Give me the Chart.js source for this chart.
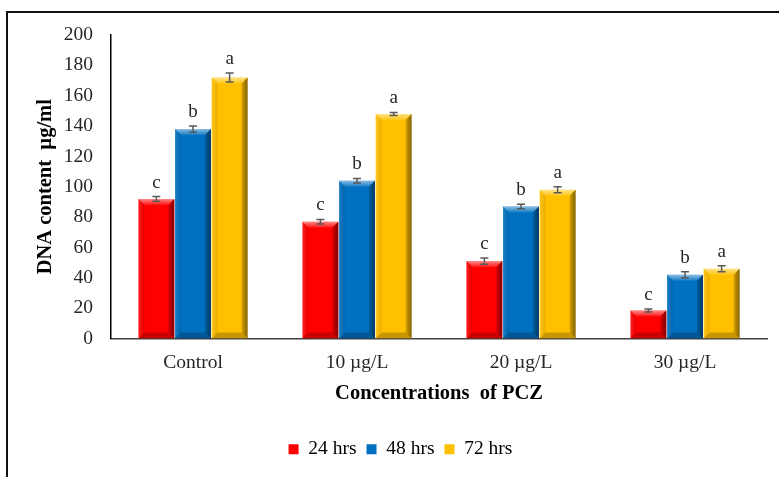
<!DOCTYPE html>
<html>
<head>
<meta charset="utf-8">
<script src="https://cdn.jsdelivr.net/npm/chart.js@4.4.0/dist/chart.umd.min.js"></script>
<style>
  html, body { margin: 0; padding: 0; background: #fff; overflow: hidden; }
  #wrap { position: relative; width: 779px; height: 477px; }
  #frame { position: absolute; left: 6px; top: 11px; width: 900px; height: 600px;
           border-top: 2px solid #111; border-left: 2px solid #111; pointer-events: none; }
  canvas { position: absolute; left: 0; top: 0; }
</style>
</head>
<body>
<div id="wrap">
  <canvas id="c" width="779" height="477"></canvas>
  <div id="frame"></div>
</div>
<script>
const categories = ['Control', '10 µg/L', '20 µg/L', '30 µg/L'];
const seriesNames = ['24 hrs', '48 hrs', '72 hrs'];
const values24 = [92, 77, 51, 18.5];
const values48 = [138, 104, 87, 42];
const values72 = [172, 148, 98, 46];
const err24 = [1.5, 1.5, 2, 1];
const err48 = [2, 1.5, 1.5, 2];
const err72 = [3, 1, 2, 2];
const letters24 = ['c', 'c', 'c', 'c'];
const letters48 = ['b', 'b', 'b', 'b'];
const letters72 = ['a', 'a', 'a', 'a'];
const yTicks = [0, 20, 40, 60, 80, 100, 120, 140, 160, 180, 200];

const colors = ['#FF0000', '#0070C0', '#FFC000'];
const errs = [err24, err48, err72];
const letters = [letters24, letters48, letters72];

const FONT = "'Liberation Serif', 'Times New Roman', serif";

const bevelPlugin = {
  id: 'bevel',
  afterLayout(chart) {
    if (chart.legend) { chart.legend.left += 17; chart.legend.right += 17; }
  },
  afterDatasetsDraw(chart) {
    const ctx = chart.ctx;
    chart.data.datasets.forEach((ds, di) => {
      const meta = chart.getDatasetMeta(di);
      meta.data.forEach((bar, i) => {
        const p = bar.getProps(['x', 'y', 'base', 'width'], true);
        const l = p.x - p.width / 2, r = p.x + p.width / 2, t = p.y, b = p.base;
        const h = b - t;
        const bv = Math.min(6, h / 2, p.width / 4);
        ctx.save();
        let g = ctx.createLinearGradient(0, t, 0, t + bv);
        g.addColorStop(0, 'rgba(255,255,255,0.55)');
        g.addColorStop(1, 'rgba(255,255,255,0.08)');
        ctx.fillStyle = g;
        ctx.beginPath(); ctx.moveTo(l, t); ctx.lineTo(r, t); ctx.lineTo(r - bv, t + bv); ctx.lineTo(l + bv, t + bv); ctx.closePath(); ctx.fill();
        g = ctx.createLinearGradient(r - bv, 0, r, 0);
        g.addColorStop(0, 'rgba(0,0,0,0.15)');
        g.addColorStop(1, 'rgba(0,0,0,0.5)');
        ctx.fillStyle = g;
        ctx.beginPath(); ctx.moveTo(r, t); ctx.lineTo(r, b); ctx.lineTo(r - bv, b - bv); ctx.lineTo(r - bv, t + bv); ctx.closePath(); ctx.fill();
        g = ctx.createLinearGradient(l, 0, l + bv, 0);
        g.addColorStop(0, 'rgba(255,255,255,0.12)');
        g.addColorStop(1, 'rgba(0,0,0,0.08)');
        ctx.fillStyle = g;
        ctx.beginPath(); ctx.moveTo(l, t); ctx.lineTo(l + bv, t + bv); ctx.lineTo(l + bv, b - bv); ctx.lineTo(l, b); ctx.closePath(); ctx.fill();
        ctx.fillStyle = 'rgba(0,0,0,0.22)';
        ctx.beginPath(); ctx.moveTo(l, b); ctx.lineTo(l + bv, b - bv); ctx.lineTo(r - bv, b - bv); ctx.lineTo(r, b); ctx.closePath(); ctx.fill();
        ctx.restore();
      });
    });
  }
};

const errorPlugin = {
  id: 'errs',
  afterDatasetsDraw(chart) {
    const ctx = chart.ctx;
    const ys = chart.scales.y;
    chart.data.datasets.forEach((ds, di) => {
      const meta = chart.getDatasetMeta(di);
      meta.data.forEach((bar, i) => {
        const v = ds.data[i], e = errs[di][i];
        const x = bar.x;
        const yTop = ys.getPixelForValue(v + e);
        const yBot = ys.getPixelForValue(v - e);
        ctx.save();
        ctx.strokeStyle = '#595959';
        ctx.lineWidth = 1.5;
        ctx.beginPath();
        ctx.moveTo(x, yTop); ctx.lineTo(x, yBot);
        ctx.moveTo(x - 4, yTop); ctx.lineTo(x + 4, yTop);
        ctx.moveTo(x - 4, yBot); ctx.lineTo(x + 4, yBot);
        ctx.stroke();
        ctx.fillStyle = '#262626';
        ctx.font = '19px ' + FONT;
        ctx.textAlign = 'center';
        ctx.textBaseline = 'alphabetic';
        ctx.fillText(letters[di][i], x, yTop - 9);
        ctx.restore();
      });
    });
  }
};

new Chart(document.getElementById('c'), {
  type: 'bar',
  data: {
    labels: categories,
    datasets: [
      { label: seriesNames[0], data: values24, backgroundColor: colors[0] },
      { label: seriesNames[1], data: values48, backgroundColor: colors[1] },
      { label: seriesNames[2], data: values72, backgroundColor: colors[2] }
    ]
  },
  options: {
    responsive: false,
    animation: false,
    devicePixelRatio: 1,
    layout: { padding: { left: 0, right: 12, top: 35, bottom: 8 } },
    datasets: { bar: { categoryPercentage: 0.67, barPercentage: 0.98 } },
    scales: {
      x: {
        grid: { display: false, drawTicks: false },
        border: { display: true, color: '#404040', width: 1.5 },
        ticks: { color: '#262626', font: { family: FONT, size: 19.5 }, padding: 13 },
        title: { display: true, text: 'Concentrations  of PCZ', color: '#000',
                 font: { family: FONT, size: 20.5, weight: 'bold' }, padding: { top: 0, bottom: 23 } },
        afterFit(s) { s.height = 91; }
      },
      y: {
        min: 0, max: 200,
        afterBuildTicks(s) { s.ticks = yTicks.map(v => ({ value: v })); },
        grid: { display: false, drawTicks: false },
        border: { display: true, color: '#000', width: 1.5 },
        ticks: { color: '#262626', font: { family: FONT, size: 19.5 }, padding: 18 },
        title: { display: true, text: 'DNA content  µg/ml', color: '#000',
                 font: { family: FONT, size: 20.5, weight: 'bold' }, padding: { top: 33, bottom: 0 } },
        afterFit(s) { s.width = 111; }
      }
    },
    plugins: {
      legend: {
        position: 'bottom',
        labels: { font: { family: FONT, size: 19.5 }, color: '#000', boxWidth: 10, boxHeight: 10, padding: 10 }
      },
      tooltip: { enabled: false }
    }
  },
  plugins: [bevelPlugin, errorPlugin]
});
</script>
</body>
</html>
